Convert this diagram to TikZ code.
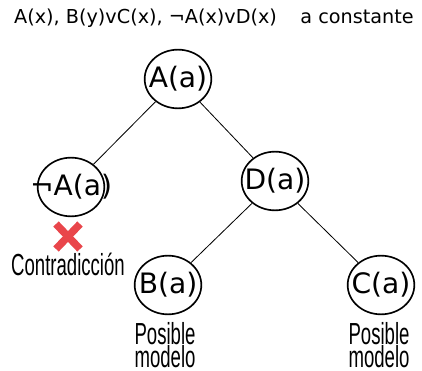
\documentclass[tikz,border=0pt]{standalone}
\usepackage{fontspec}
\setmainfont{DejaVu Sans}
\newfontfamily\narrowfont[FakeStretch=0.61]{Liberation Sans}
\usepackage{tikz}
\usetikzlibrary{
	arrows.meta,
	positioning,
	calc,
	shapes.geometric
}
\usepackage{xcolor}
\definecolor{crossred}{HTML}{E9464B}
\newcommand{\lt}[1]{\makebox[0pt]{#1}}

\begin{document}
\begin{tikzpicture}[x=0.03cm,y=-0.03cm,
		lit/.style={draw,ellipse,line width=1.4pt,minimum width=2cm,minimum height=1.76cm,inner sep=0pt,font=\fontsize{24}{24}\selectfont},
		note/.style={font=\narrowfont\fontsize{26}{20}\selectfont,align=center,inner sep=0pt}]
		
		\useasboundingbox (0,0) rectangle (422,371);
		
		% Clausulas
		\node[font=\fontsize{16.4}{16.4}\selectfont,anchor=west,inner sep=0pt] (cl) at (14,18)
		{A(x), B(y)vC(x), ¬A(x)vD(x)\hspace{0.9em} a constante};
		
		% Arbol
		\node[lit] (a) at (178,79){\lt{A(a)}};
		\node[lit] (na) at (71,187){\lt{¬A(a)}};
		\node[lit] (d) at (275,181){\lt{D(a)}};
		\node[lit] (b) at (168,285){\lt{B(a)}};
		\node[lit] (c) at (381,285){\lt{C(a)}};
		
		\draw[line width=0.7pt](a)--(na);
		\draw[line width=0.7pt](a)--(d);
		\draw[line width=0.7pt](d)--(b);
		\draw[line width=0.7pt](d)--(c);
		
		% Cierre de la rama
		\draw[crossred,line width=6.4pt] (56,224)--(80,249);
		\draw[crossred,line width=6.4pt] (56,249)--(80,224);
		\node[note] (con) at (68,264){Contradicción};
		
		\node[note] (mb) at (165,345){Posible\\modelo};
		\node[note] (mc) at (379,345){Posible\\modelo};
		
	\end{tikzpicture}
\end{document}
